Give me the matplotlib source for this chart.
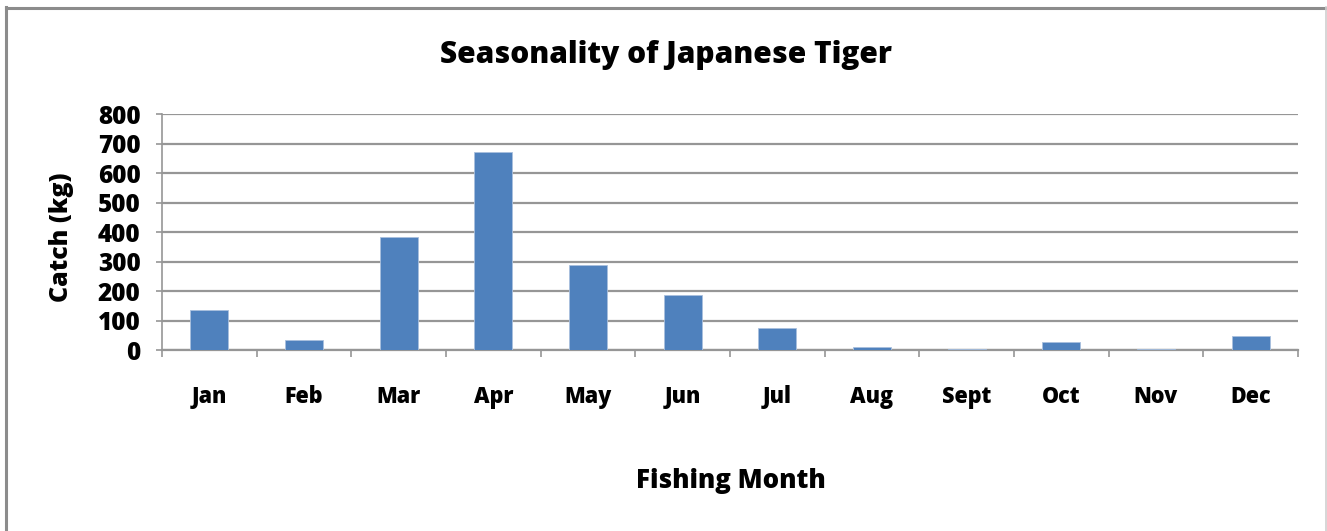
import matplotlib
matplotlib.use("Agg")
import matplotlib.pyplot as plt
from matplotlib.lines import Line2D

months = ["Jan", "Feb", "Mar", "Apr", "May", "Jun", "Jul", "Aug", "Sept", "Oct", "Nov", "Dec"]
catch_kg = [135, 33, 384, 673, 288, 186, 76, 11, 4, 26, 4, 47]
y_ticks = [0, 100, 200, 300, 400, 500, 600, 700, 800]

title = "Seasonality of Japanese Tiger"
x_title = "Fishing Month"
y_title = "Catch (kg)"

W, H = 1327, 531
DPI = 100
FONT = "Open Sans"
BAR_COLOR = "#4F81BD"
GRID_COLOR = "#969696"

fig = plt.figure(figsize=(W / DPI, H / DPI), dpi=DPI)
fig.patch.set_facecolor("white")

# outer chart frame
fig.add_artist(Line2D([5.5 / W, 5.5 / W], [0, 1 - 7 / H], transform=fig.transFigure,
                      color="#8c8c8c", lw=2.2))
fig.add_artist(Line2D([5.5 / W, 1], [1 - 7.5 / H, 1 - 7.5 / H], transform=fig.transFigure,
                      color="#8c8c8c", lw=2.2))
fig.add_artist(Line2D([1 - 1.5 / W, 1 - 1.5 / W], [0, 1 - 7 / H], transform=fig.transFigure,
                      color="#cfcfcf", lw=1.2))

# plot area in pixels
x0, x1 = 162, 1298
y_top, y_bot = 114.5, 350
ax = fig.add_axes([x0 / W, 1 - y_bot / H, (x1 - x0) / W, (y_bot - y_top) / H])

xs = list(range(len(months)))
ax.bar(xs, catch_kg, width=0.40, color=BAR_COLOR, edgecolor="#a9c0de", linewidth=0.6, zorder=3)

ax.set_xlim(-0.5, len(months) - 0.5)
ax.set_ylim(0, 800)
ax.set_yticks(y_ticks)
ax.set_yticklabels([str(v) for v in y_ticks], fontfamily=FONT, fontweight="heavy", fontsize=17.5)
ax.yaxis.grid(True, color=GRID_COLOR, lw=1.6, zorder=0)
ax.set_axisbelow(True)

ax.set_xticks(xs)
ax.set_xticklabels(months, fontfamily=FONT, fontweight="heavy", fontsize=15.5)
ax.set_xticks([i - 0.5 for i in range(len(months) + 1)], minor=True)
ax.tick_params(axis="x", which="major", length=0, pad=25)
ax.tick_params(axis="x", which="minor", length=5, width=1.2, color=GRID_COLOR)
ax.tick_params(axis="y", length=4.5, width=1.2, color=GRID_COLOR, pad=11)

for s in ["top", "right"]:
    ax.spines[s].set_visible(False)
ax.spines["left"].set_color(GRID_COLOR)
ax.spines["left"].set_linewidth(1.2)
ax.spines["bottom"].set_color(GRID_COLOR)
ax.spines["bottom"].set_linewidth(1.6)

fig.text(666 / W, 1 - 55 / H, title, ha="center", va="center",
         fontfamily=FONT, fontweight="heavy", fontsize=21.5)
fig.text(731 / W, 1 - 481 / H, x_title, ha="center", va="center",
         fontfamily=FONT, fontweight="heavy", fontsize=18.6)
fig.text(62 / W, 1 - 237 / H, y_title, ha="center", va="center", rotation=90,
         fontfamily=FONT, fontweight="heavy", fontsize=18)

fig.savefig("out.png", dpi=DPI)
